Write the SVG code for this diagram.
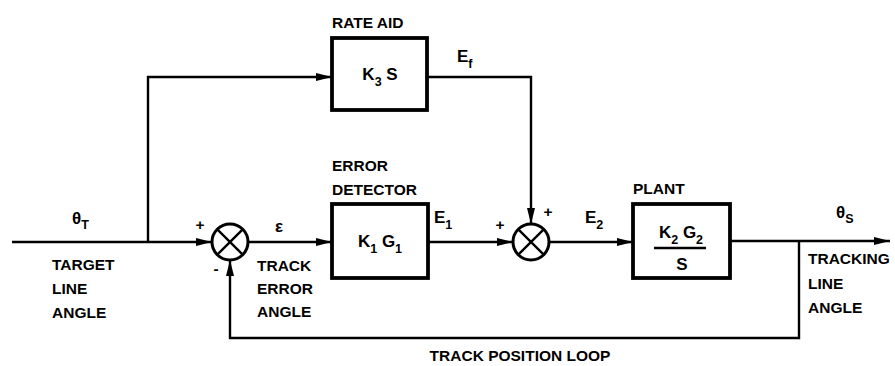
<svg xmlns="http://www.w3.org/2000/svg" width="895" height="366" viewBox="0 0 895 366">
<style>
text{font-family:"Liberation Sans","DejaVu Sans",sans-serif;font-weight:bold;font-size:15.5px;fill:#000}
.sub{font-size:12.5px}
.big{font-size:17px}
.blk{fill:#fff;stroke:#000;stroke-width:3.8}
.ln{fill:none;stroke:#000;stroke-width:2.4}
.sum{fill:#fff;stroke:#000;stroke-width:3}
</style>
<defs>
<marker id="ah" markerUnits="userSpaceOnUse" markerWidth="18" markerHeight="10" refX="16" refY="5" orient="auto">
<path d="M0,1 L16,5 L0,9 Z" fill="#000"/>
</marker>
</defs>
<g id="connectors">
<path class="ln" d="M12 242 H212" marker-end="url(#ah)"/>
<path class="ln" d="M148 242 V77 H332" marker-end="url(#ah)"/>
<path class="ln" d="M248 242 H332" marker-end="url(#ah)"/>
<path class="ln" d="M428 242 H513" marker-end="url(#ah)"/>
<path class="ln" d="M427 77 H531 V224" marker-end="url(#ah)"/>
<path class="ln" d="M549 242 H633" marker-end="url(#ah)"/>
<path class="ln" d="M730 241 H890" marker-end="url(#ah)"/>
<path class="ln" d="M799 241 V338 H230 V260" marker-end="url(#ah)"/>
</g>
<g id="sum1">
<circle class="sum" cx="230" cy="242" r="18"/>
<path class="ln" d="M217.3 229.3 L242.7 254.7 M242.7 229.3 L217.3 254.7" stroke-width="3"/>
<text x="200" y="230" text-anchor="middle">+</text>
<text x="216" y="274" text-anchor="middle">-</text>
</g>
<g id="sum2">
<circle class="sum" cx="531" cy="242" r="18"/>
<path class="ln" d="M518.3 229.3 L543.7 254.7 M543.7 229.3 L518.3 254.7" stroke-width="3"/>
<text x="500" y="230" text-anchor="middle">+</text>
<text x="548" y="217" text-anchor="middle">+</text>
</g>
<g id="rate-aid">
<rect class="blk" x="332" y="38" width="95" height="72"/>
<text x="332" y="28">RATE AID</text>
<text class="big" x="380" y="80" text-anchor="middle">K<tspan class="sub" dy="6">3</tspan><tspan dy="-6"> S</tspan></text>
</g>
<g id="error-detector">
<rect class="blk" x="332" y="204" width="96" height="74"/>
<text x="332" y="171">ERROR</text>
<text x="332" y="195">DETECTOR</text>
<text class="big" x="380" y="247" text-anchor="middle">K<tspan class="sub" dy="6">1</tspan><tspan dy="-6"> G</tspan><tspan class="sub" dy="6">1</tspan></text>
</g>
<g id="plant">
<rect class="blk" x="633" y="204" width="97" height="74"/>
<text x="633" y="194">PLANT</text>
<text class="big" x="681" y="238" text-anchor="middle">K<tspan class="sub" dy="6">2</tspan><tspan dy="-6"> G</tspan><tspan class="sub" dy="6">2</tspan></text>
<line x1="654" y1="248" x2="706" y2="248" stroke="#000" stroke-width="2.4"/>
<text class="big" x="682" y="270" text-anchor="middle">S</text>
</g>
<g id="labels">
<text class="big" x="72" y="224">θ<tspan class="sub" dy="5">T</tspan></text>
<text x="52" y="270">TARGET</text>
<text x="52" y="294">LINE</text>
<text x="52" y="318">ANGLE</text>
<text class="big" x="275" y="232">ε</text>
<text x="257" y="271">TRACK</text>
<text x="257" y="294">ERROR</text>
<text x="257" y="317">ANGLE</text>
<text class="big" x="434" y="223">E<tspan class="sub" dy="6">1</tspan></text>
<text class="big" x="457" y="62">E<tspan class="sub" dy="6">f</tspan></text>
<text class="big" x="585" y="223">E<tspan class="sub" dy="6">2</tspan></text>
<text class="big" x="836" y="218">θ<tspan class="sub" dy="5">S</tspan></text>
<text x="808" y="264">TRACKING</text>
<text x="808" y="289">LINE</text>
<text x="808" y="313">ANGLE</text>
<text x="520" y="361" text-anchor="middle">TRACK POSITION LOOP</text>
</g>
</svg>
